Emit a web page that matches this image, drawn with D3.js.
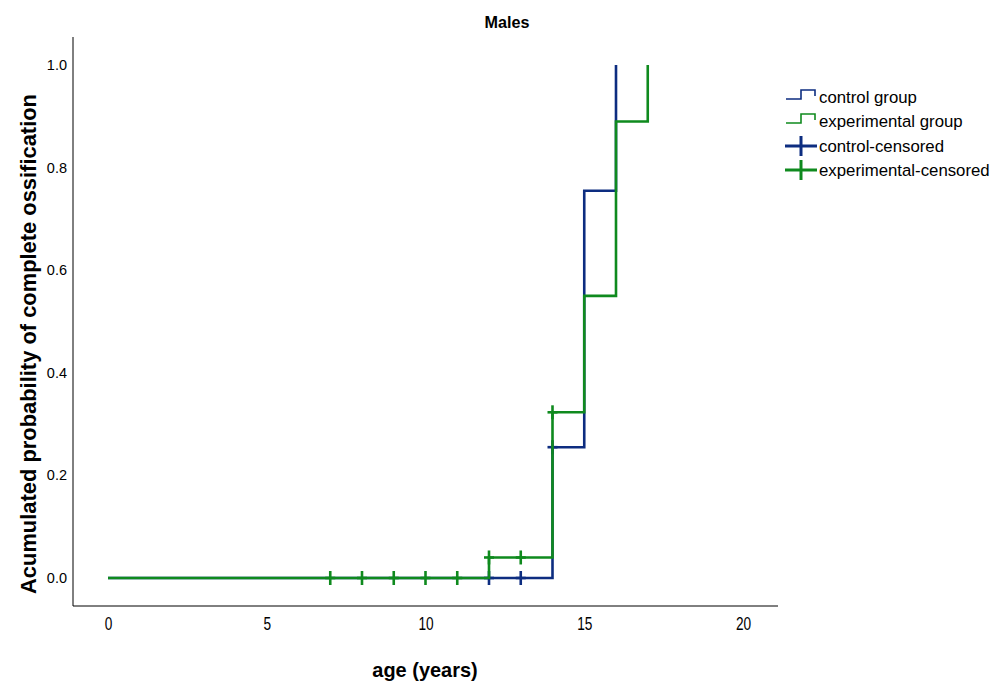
<!DOCTYPE html>
<html>
<head>
<meta charset="utf-8">
<script src="https://cdn.jsdelivr.net/npm/d3@7"></script>
<style>
body { margin: 0; background: #fff; }
text { font-family: "Liberation Sans", Arial, sans-serif; fill: #000; }
</style>
</head>
<body>
<script>
// step points: [age, cumulative probability]
var controlSteps = [[0,0],[14,0.255],[15,0.755],[16,1.0]];
var controlEnd = 16;
var experimentalSteps = [[0,0],[12,0.04],[14,0.323],[15,0.55],[16,0.89],[17,1.0]];
var experimentalEnd = 17;
// censored observations: [age, probability]
var controlCensored = [[12,0],[13,0],[14,0.255]];
var experimentalCensored = [[7,0],[8,0],[9,0],[10,0],[11,0],[12,0.04],[13,0.04],[14,0.323]];
var xTicks = [0,5,10,15,20];
var yTicks = [0,0.2,0.4,0.6,0.8,1.0];
var legendLabels = ['control group','experimental group','control-censored','experimental-censored'];

var blue = '#0d2d80', green = '#0f8a1e';
var W = 996, H = 686;

var svg = d3.select('body').append('svg').attr('width',W).attr('height',H);

var x = d3.scaleLinear().domain([0,20]).range([108,743]);
var y = d3.scaleLinear().domain([0,1]).range([578,65]);

// axis lines
svg.append('line').attr('x1',73).attr('x2',73).attr('y1',37).attr('y2',606).style('stroke','#000').style('stroke-width',1);
svg.append('line').attr('x1',73).attr('x2',778).attr('y1',606).attr('y2',606).style('stroke','#000').style('stroke-width',1);

// narrow-looking text by squeezing horizontally
function narrow(sel, tx, ty, sx) {
	return sel.attr('transform','translate('+tx+','+ty+') scale('+sx+',1)');
}

svg.selectAll('.xt').data(xTicks).enter().append('text')
	.attr('class','xt')
	.each(function(d){ narrow(d3.select(this), x(d)+0.5, 630, 0.76); })
	.style('text-anchor','middle')
	.style('font-size','18px')
	.text(function(d){return d;});

svg.selectAll('.yt').data(yTicks).enter().append('text')
	.attr('class','yt')
	.attr('x',67)
	.attr('y',function(d){return y(d)+5;})
	.style('text-anchor','end')
	.style('font-size','14.5px')
	.text(function(d){return d.toFixed(1);});

narrow(svg.append('text'), 507, 28, 0.95)
	.style('text-anchor','middle').style('font-size','17px').style('font-weight','bold').text('Males');

narrow(svg.append('text'), 425, 677, 0.95)
	.style('text-anchor','middle').style('font-size','21px').style('font-weight','bold').text('age (years)');

svg.append('text').attr('transform','translate(36,344) rotate(-90)')
	.style('text-anchor','middle').style('font-size','21.9px').style('font-weight','bold')
	.text('Acumulated probability of complete ossification');

var stepLine = d3.line().x(function(d){return x(d[0]);}).y(function(d){return y(d[1]);}).curve(d3.curveStepAfter);

function drawGroup(steps, end, censored, color) {
	var pts = steps.concat([[end, steps[steps.length-1][1]]]);
	svg.append('path').datum(pts).attr('d',stepLine)
		.style('fill','none').style('stroke',color).style('stroke-width',2.6);
	var g = svg.append('g');
	censored.forEach(function(c){
		var cx = x(c[0]), cy = y(c[1]);
		g.append('line').attr('x1',cx).attr('x2',cx).attr('y1',cy-7).attr('y2',cy+7)
			.style('stroke',color).style('stroke-width',2.6);
		g.append('line').attr('x1',cx-5).attr('x2',cx+5).attr('y1',cy).attr('y2',cy)
			.style('stroke',color).style('stroke-width',2.6);
	});
}
drawGroup(controlSteps, controlEnd, controlCensored, blue);
drawGroup(experimentalSteps, experimentalEnd, experimentalCensored, green);

// legend
var lx = 786, ly = [97,121,146,170];
[blue, green].forEach(function(c,i){
	var yy = ly[i];
	svg.append('path').attr('d','M'+lx+','+(yy+2)+'H'+(lx+15)+'V'+(yy-7)+'H'+(lx+29)+'V'+(yy-1))
		.style('fill','none').style('stroke',c).style('stroke-width',1.6);
});
[blue, green].forEach(function(c,i){
	var yy = ly[i+2];
	svg.append('line').attr('x1',lx-1).attr('x2',lx+31).attr('y1',yy).attr('y2',yy).style('stroke',c).style('stroke-width',3);
	svg.append('line').attr('x1',lx+15).attr('x2',lx+15).attr('y1',yy-10).attr('y2',yy+10).style('stroke',c).style('stroke-width',3);
});
svg.selectAll('.lg').data(legendLabels).enter().append('text')
	.attr('x',819).attr('y',function(d,i){return ly[i]+6;})
	.style('font-size','16.8px')
	.text(function(d){return d;});
</script>
</body>
</html>
